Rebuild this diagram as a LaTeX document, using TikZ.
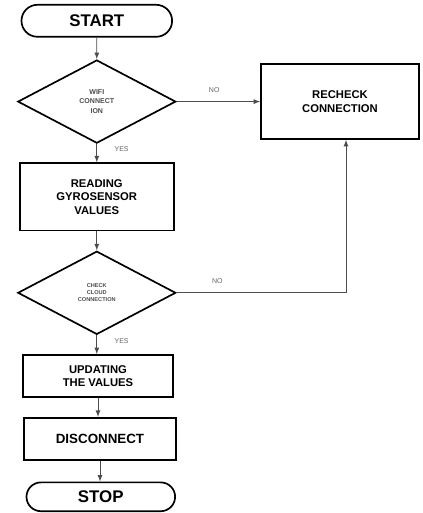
\documentclass[tikz,border=0pt]{standalone}
\usepackage{fontspec}
\setmainfont{Liberation Sans}
\usetikzlibrary{shapes.geometric,shapes.misc}
\begin{document}
\begin{tikzpicture}[
        terminal/.style={draw,very thick,rounded rectangle,minimum width=4cm,minimum height=0.8cm,font=\bfseries\fontsize{12}{12}\selectfont},
        decision/.style={draw,very thick,diamond,aspect=1.9,inner sep=0pt,minimum width=3.95cm,minimum height=2.08cm,align=center,text=black!70},
        process/.style={draw,very thick,rectangle,align=center,font=\bfseries\fontsize{8}{9.5}\selectfont},
        flow/.style={draw=black!70,semithick,-latex},
        lbl/.style={font=\fontsize{5}{5}\selectfont,text=black!60}
    ]
    \useasboundingbox (0,0) rectangle (10.55,-12.825);

    \node[terminal] (start) at (2.42,-0.52) {START};
    \node[decision,font=\bfseries\fontsize{5}{6.5}\selectfont] (wifi) at (2.42,-2.54) {WIFI\\CONNECT\\ION};
    \node[process,minimum width=3.95cm,minimum height=1.87cm] (recheck) at (8.5,-2.54) {RECHECK\\CONNECTION};
    \node[process,minimum width=3.85cm,minimum height=1.68cm] (reading) at (2.42,-4.92) {READING\\GYROSENSOR\\VALUES};
    \node[decision,font=\bfseries\fontsize{4}{5}\selectfont] (check) at (2.42,-7.32) {CHECK\\CLOUD\\CONNECTION};
    \node[process,minimum width=3.75cm,minimum height=1.05cm] (update) at (2.45,-9.4) {UPDATING\\THE VALUES};
    \node[process,minimum width=3.8cm,minimum height=1.05cm,font=\bfseries\fontsize{9.5}{10}\selectfont] (disc) at (2.5,-10.97) {DISCONNECT};
    \node[terminal,minimum width=3.95cm,minimum height=0.72cm] (stop) at (2.52,-12.42) {STOP};

    % main line
    \draw[flow] (start) -- (wifi);
    \draw[flow] (wifi) -- (reading) node[pos=0.3,right=9pt,lbl] {YES};
    \draw[flow] (reading) -- (check);
    \draw[flow] (check) -- (check |- update.north) node[pos=0.3,right=9pt,lbl] {YES};
    \draw[flow] (update.south) -- (update.south |- disc.north);
    \draw[flow] (disc.south) -- (disc.south |- stop.north);

    % retry branches
    \draw[flow] (wifi.east) -- (recheck.west) node[pos=0.45,above=3pt,lbl] {NO};
    \draw[flow] (check.east) -| ([xshift=0.15cm]recheck.south) node[pos=0.12,above=3pt,lbl] {NO};
\end{tikzpicture}
\end{document}
